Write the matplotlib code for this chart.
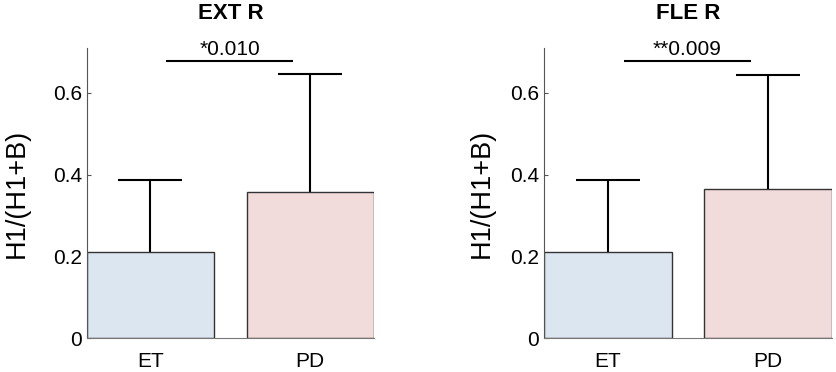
import matplotlib.pyplot as plt

# group labels and bar data
groups = ["ET", "PD"]
titles = ["EXT R", "FLE R"]
means = [[0.211, 0.357], [0.211, 0.364]]
sds = [[0.177, 0.289], [0.177, 0.281]]
pvals = ["*0.010", "**0.009"]
sig_y = 0.679
yticks = [0, 0.2, 0.4, 0.6]
ytick_labels = ["0", "0.2", "0.4", "0.6"]

bar_colors = ["#dce6f1", "#f2dcdb"]
plt.rcParams["font.family"] = ["Liberation Sans", "DejaVu Sans"]

fig = plt.figure(figsize=(8.36, 3.72), dpi=100)
ax_pos = [[0.104, 0.091, 0.343, 0.780], [0.651, 0.091, 0.344, 0.780]]
ylabel_pads = [17, 11]

for i in range(2):
    ax = fig.add_axes(ax_pos[i])
    x = [1, 2]
    ax.bar(x, means[i], width=0.795, color=bar_colors, edgecolor="#333333",
           linewidth=1.0, zorder=2)
    # upper error bars only
    tops = [m + s for m, s in zip(means[i], sds[i])]
    ax.vlines(x, means[i], tops, color="black", linewidth=1.5, zorder=1)
    ax.hlines(tops, [xx - 0.2 for xx in x], [xx + 0.2 for xx in x],
              color="black", linewidth=1.5, zorder=1)
    # significance bar
    ax.hlines(sig_y, 1.1, 1.89, color="black", linewidth=1.5)
    ax.text(1.495, sig_y + 0.013, pvals[i], ha="center", va="baseline",
            fontsize=15)

    ax.set_xlim(0.6025, 2.3975)
    ax.set_ylim(0, 0.71)
    ax.set_xticks(x)
    ax.set_xticklabels(groups, fontsize=15)
    ax.set_yticks(yticks)
    ax.set_yticklabels(ytick_labels, fontsize=15)
    ax.tick_params(direction="in", length=3, width=0.8, color="#555555")
    ax.tick_params(axis="x", pad=10)
    ax.set_ylabel("H1/(H1+B)", fontsize=19.5, labelpad=ylabel_pads[i])
    ax.set_title(titles[i], fontsize=16, fontweight="bold", pad=21)
    ax.spines["top"].set_visible(False)
    ax.spines["right"].set_visible(False)
    ax.spines["left"].set_color("#555555")
    ax.spines["bottom"].set_color("#777777")

fig.savefig("out.png", dpi=100)
